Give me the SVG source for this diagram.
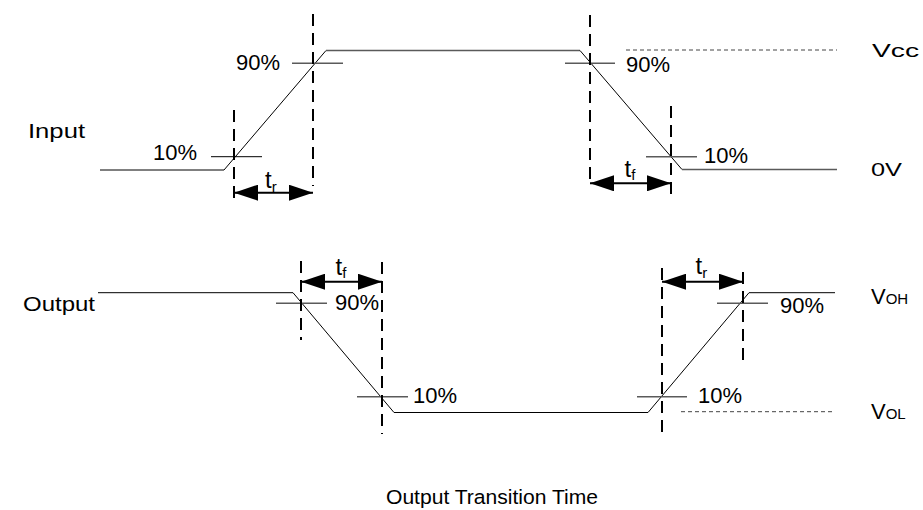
<svg xmlns="http://www.w3.org/2000/svg" width="923" height="510" viewBox="0 0 923 510">
<style>
text{font-family:"Liberation Sans",Arial,sans-serif;fill:#000}
.pct{font-size:22px}
.sig{fill:none;stroke:#000;stroke-width:1}
.sigg{fill:none;stroke:#5a5a5a;stroke-width:1.4}
.tick{stroke:#000;stroke-width:1}
.tickg{stroke:#5a5a5a;stroke-width:1.4}
.dash{stroke:#000;stroke-width:2;stroke-dasharray:12 7}
.ref{stroke:#444;stroke-width:1;stroke-dasharray:4 3}
.arr{stroke:#000;stroke-width:2;marker-start:url(#ah);marker-end:url(#ah)}
.t{font-size:24px}
.sub{font-size:15px}
</style>
<defs>
<marker id="ah" viewBox="0 0 24 16" refX="24" refY="8" markerWidth="24" markerHeight="16" markerUnits="userSpaceOnUse" orient="auto-start-reverse">
<path d="M0,0 L24,8 L0,16 z" fill="#000"/>
</marker>
</defs>
<rect width="923" height="510" fill="#fff"/>

<g id="input-signal">
<line class="sig" x1="100" y1="170" x2="224" y2="170"/>
<line class="sig" x1="224" y1="170" x2="326" y2="50.5"/>
<line class="sigg" x1="326" y1="50.5" x2="580" y2="50.5"/>
<line class="sig" x1="580" y1="50.5" x2="682" y2="169.5"/>
<line class="sigg" x1="682" y1="169.5" x2="837" y2="169.5"/>
<line class="ref" x1="626" y1="50" x2="837" y2="50"/>
<line class="tick" x1="211" y1="156.7" x2="262" y2="156.7"/>
<line class="tickg" x1="292" y1="63.3" x2="343" y2="63.3"/>
<line class="tickg" x1="565" y1="63.3" x2="615" y2="63.3"/>
<line class="tickg" x1="646" y1="156.7" x2="697" y2="156.7"/>
</g>

<g id="output-signal">
<line class="sig" x1="98" y1="292.7" x2="293" y2="292.7"/>
<line class="sig" x1="293" y1="292.7" x2="394" y2="412.5"/>
<line class="sig" x1="394" y1="412.5" x2="648" y2="412.5"/>
<line class="sig" x1="648" y1="412.5" x2="749" y2="292.7"/>
<line class="sig" x1="749" y1="292.7" x2="835" y2="292.7"/>
<line class="ref" x1="681" y1="411.7" x2="835" y2="411.7"/>
<line class="tickg" x1="276" y1="303.3" x2="327" y2="303.3"/>
<line class="tickg" x1="357" y1="396.7" x2="408" y2="396.7"/>
<line class="tickg" x1="717" y1="303.3" x2="768" y2="303.3"/>
<line class="tickg" x1="637" y1="396.7" x2="687" y2="396.7"/>
</g>

<g id="connectors">
<line class="dash" x1="234" y1="110" x2="234" y2="201"/>
<line class="dash" x1="313" y1="14" x2="313" y2="186"/>
<line class="dash" x1="590" y1="15" x2="590" y2="186"/>
<line class="dash" x1="671" y1="106" x2="671" y2="197"/>
<line class="dash" x1="301" y1="261" x2="301" y2="340"/>
<line class="dash" x1="382" y1="262" x2="382" y2="434"/>
<line class="dash" x1="662" y1="268" x2="662" y2="438"/>
<line class="dash" x1="743" y1="272" x2="743" y2="362"/>
<line class="arr" x1="234" y1="192.7" x2="313" y2="192.7"/>
<line class="arr" x1="590" y1="183.3" x2="671" y2="183.3"/>
<line class="arr" x1="301" y1="281.7" x2="382" y2="281.7"/>
<line class="arr" x1="662" y1="281.7" x2="743" y2="281.7"/>
</g>

<g id="labels">
<text class="pct" x="153" y="159.5">10%</text>
<text class="pct" x="236" y="69.5">90%</text>
<text class="pct" x="626" y="71.5">90%</text>
<text class="pct" x="704" y="162.5">10%</text>
<text class="pct" x="335" y="310">90%</text>
<text class="pct" x="413" y="402.5">10%</text>
<text class="pct" x="780" y="313">90%</text>
<text class="pct" x="698" y="403.3">10%</text>

<text class="t" x="265" y="188">t<tspan class="sub" dy="4">r</tspan></text>
<text class="t" x="624.5" y="176.5">t<tspan class="sub" dy="3">f</tspan></text>
<text class="t" x="335.5" y="275">t<tspan class="sub" dy="3">f</tspan></text>
<text class="t" x="695.5" y="273.5">t<tspan class="sub" dy="4">r</tspan></text>

<text x="28" y="138" font-size="20" textLength="57" lengthAdjust="spacingAndGlyphs">Input</text>
<text x="23" y="310.5" font-size="21" textLength="72" lengthAdjust="spacingAndGlyphs">Output</text>

<text x="872" y="57" font-size="19" textLength="47" lengthAdjust="spacingAndGlyphs">Vcc</text>
<text x="871" y="176" font-size="19" textLength="31" lengthAdjust="spacingAndGlyphs">0V</text>
<text x="871" y="303.5" font-size="22">V<tspan font-size="15">OH</tspan></text>
<text x="871" y="419" font-size="22">V<tspan font-size="15">OL</tspan></text>

<text x="386" y="504" font-size="20.5" textLength="212" lengthAdjust="spacingAndGlyphs">Output Transition Time</text>
</g>
</svg>
